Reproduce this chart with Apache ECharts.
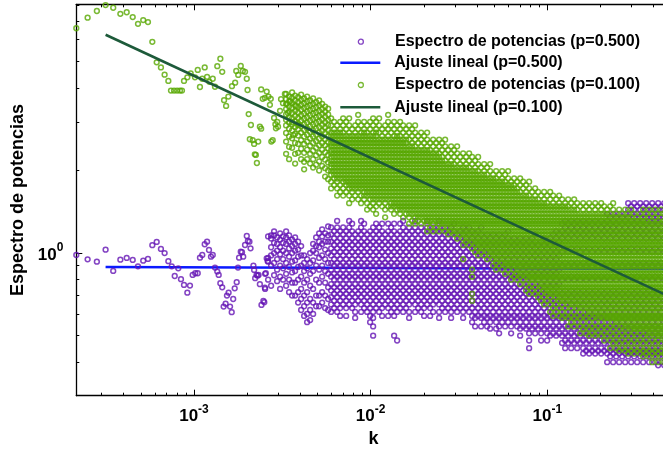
<!DOCTYPE html>
<html><head><meta charset="utf-8">
<script src="https://cdn.jsdelivr.net/npm/echarts@6/dist/echarts.min.js"></script>
<style>html,body{margin:0;padding:0;background:#fff}#c{width:663px;height:449px}</style>
</head><body><div id="c"></div>
<script>
const kMin = 2.157e-4, kMax = 0.5;
const pMin = 0.302, pMax = 8.07;
const seriesNames = ['Espectro de potencias (p=0.500)','Ajuste lineal (p=0.500)','Espectro de potencias (p=0.100)','Ajuste lineal (p=0.100)'];
const minorMultipliers = [2,3,4,5,6,7,8,9];

// p = 0.500, isolated low-k points
const purpleK = [2.157e-4,2.50e-4,2.82e-4,3.16e-4,3.49e-4,3.83e-4,4.16e-4,4.50e-4,4.82e-4,5.16e-4,5.49e-4,5.81e-4,6.15e-4,6.50e-4,6.82e-4,7.16e-4,7.48e-4,7.78e-4,8.15e-4,8.44e-4,8.78e-4,9.17e-4,9.49e-4,9.83e-4,1.017e-3,1.05e-3,1.081e-3,1.114e-3,1.15e-3,1.186e-3,1.216e-3,1.248e-3,1.277e-3,1.315e-3,1.355e-3,1.38e-3,1.41e-3,1.445e-3,1.472e-3,1.51e-3,1.537e-3,1.57e-3,1.60e-3,1.635e-3,1.667e-3,1.70e-3,1.745e-3,1.775e-3,1.80e-3,1.84e-3,1.87e-3,1.90e-3,1.945e-3,1.99e-3,2.02e-3,2.06e-3,2.09e-3,2.17e-3,2.19e-3,2.22e-3,2.26e-3,2.29e-3,2.32e-3,2.36e-3,2.41e-3,2.47e-3,2.50e-3,2.52e-3,2.55e-3,2.58e-3,2.61e-3];
const purpleP = [0.984,0.949,0.930,1.029,0.861,0.946,0.960,0.944,0.895,0.938,0.952,1.068,1.098,1.035,1.0,0.934,0.895,0.825,0.880,0.803,0.765,0.717,0.761,0.832,0.844,0.844,0.962,0.984,1.077,1.100,1.026,0.970,0.984,0.885,0.856,0.832,0.776,0.750,0.638,0.654,0.700,0.717,0.638,0.609,0.680,0.744,0.783,0.885,0.962,1.012,1.007,0.970,1.070,1.154,1.107,1.100,1.041,0.900,0.868,0.810,0.832,0.827,0.832,0.770,0.647,0.669,0.662,0.748,0.844,0.957,0.936];

// p = 0.100, isolated low-k points
const greenK = [2.157e-4,2.50e-4,2.82e-4,3.16e-4,3.49e-4,3.83e-4,4.16e-4,4.50e-4,4.82e-4,5.16e-4,5.49e-4,5.81e-4,6.15e-4,6.50e-4,6.82e-4,7.16e-4,7.41e-4,7.71e-4,8.02e-4,8.33e-4,8.55e-4,8.78e-4,9.17e-4,9.58e-4,1.013e-3,1.05e-3,1.081e-3,1.114e-3,1.15e-3,1.186e-3,1.222e-3,1.277e-3,1.315e-3,1.355e-3,1.41e-3,1.445e-3,1.48e-3,1.52e-3,1.565e-3,1.64e-3,1.71e-3,1.735e-3,1.78e-3,1.84e-3,1.89e-3,1.945e-3,1.99e-3,2.01e-3,2.04e-3,2.10e-3,2.07e-3,2.15e-3,2.19e-3,2.21e-3,2.24e-3,2.27e-3,2.31e-3,2.36e-3,2.40e-3,2.40e-3,2.45e-3,2.52e-3,2.58e-3,2.64e-3,2.69e-3,2.72e-3,2.74e-3,2.79e-3,2.84e-3,2.89e-3,2.91e-3,2.96e-3,2.99e-3,3.07e-3,3.11e-3,3.19e-3,3.27e-3,3.36e-3,3.40e-3,3.50e-3,3.60e-3,3.65e-3,3.78e-3,3.88e-3];
const greenP = [6.6,7.21,7.63,8.02,7.84,7.45,7.55,7.25,6.85,7.07,6.95,5.89,4.96,4.75,4.47,4.24,3.91,3.91,3.91,3.91,3.91,4.24,4.37,4.52,4.37,4.65,4.03,4.32,4.75,4.39,4.21,4.32,4.04,4.80,5.11,4.58,3.61,3.44,3.72,4.06,4.18,4.61,4.46,4.81,4.61,4.58,4.32,3.93,3.21,2.93,2.60,2.58,2.50,2.29,2.28,2.13,2.55,2.89,2.84,3.95,3.65,3.68,3.88,3.72,3.47,3.65,2.55,2.58,3.11,2.95,2.85,3.01,2.89,3.30,3.64,3.52,3.80,3.50,3.24,3.58,3.00,2.69,3.43,2.93];

// dense region: k of each column, and the values estimated in each column
const kDense = [2.430e-3,2.527e-3,2.628e-3,2.732e-3,2.841e-3,2.955e-3,3.073e-3,3.195e-3,3.323e-3,3.455e-3,
3.593e-3,3.736e-3,3.886e-3,4.041e-3,4.202e-3,4.369e-3,4.544e-3,4.725e-3,4.914e-3,5.110e-3,
5.314e-3,5.525e-3,5.746e-3,5.975e-3,6.214e-3,6.462e-3,6.720e-3,6.988e-3,7.267e-3,7.557e-3,
7.858e-3,8.172e-3,8.498e-3,8.831e-3,9.184e-3,9.550e-3,9.931e-3,0.01033,0.01074,0.01117,
0.01161,0.01208,0.01256,0.01306,0.01358,0.01412,0.01468,0.01527,0.01588,0.01651,
0.01717,0.01785,0.01857,0.01931,0.02008,0.02088,0.02171,0.02258,0.02348,0.02441,
0.02539,0.02640,0.02745,0.02854,0.02968,0.03087,0.03210,0.03338,0.03471,0.03609,
0.03753,0.03903,0.04058,0.04220,0.04389,0.04563,0.04746,0.04935,0.05132,0.05336,
0.05549,0.05770,0.06000,0.06240,0.06489,0.06748,0.07017,0.07296,0.07587,0.07890,
0.08205,0.08532,0.08873,0.09227,0.09594,0.09977,0.1038,0.1079,0.1122,0.1167,
0.1213,0.1262,0.1312,0.1365,0.1419,0.1476,0.1534,0.1596,0.1659,0.1725,
0.1794,0.1866,0.1940,0.2018,0.2098,0.2182,0.2269,0.2359,0.2453,0.2551,
0.2653,0.2759,0.2869,0.2983,0.3102,0.3226,0.3355,0.3488,0.3628,0.3772,
0.3923,0.4079,0.4242,0.4411,0.4587,0.4769];

const purpleDense = [
[],[.74,.84],[1.15,.96,.93,.8],[1.16,1.13,1.05,.98,.9,.76],[1.2,1.16,1.09,1.0,.92,.83],[1.14,1.08,1.02,.95,.87,.79],[1.18,1.12,1.05,.99,.9,.82,.74],[1.15,1.09,1.02,.95,.88,.8],[1.2,1.14,1.08,1.0,.92,.84,.76],[1.16,1.1,1.04,.97,.89,.8,.72],
// i=10
[1.12,1.06,1.0,.93,.85,.78,.7],[1.14,1.08,1.02,.94,.86,.78,.7],[1.1,1.03,.97,.89,.8,.72,.66],[1.06,.98,.9,.82,.74,.68,.62],[.98,.92,.86,.78,.7,.64,.59],[.95,.88,.8,.72,.66,.6,.56],[1.0,.92,.84,.76,.68,.62,.57],[1.08,1.02,.94,.86,.74,.66,.6],[1.14,1.06,1.0,.9,.8,.7,.64],[1.18,1.1,1.05,.96,.87,.78,.7,.64],
// i=20
[1.22,1.15,1.08,.98,.9,.82,.72,.66],[1.18,1.1,1.03,.95,.86,.78,.7,.63],[1.25,1.16,1.1,1.0,.92,.84,.75,.68,.62],
[1.24,1.17,1.1,1.04,.98,.92,.87,.82,.77,.73,.69,.65,.61],
[1.2,1.13,1.07,1.01,.95,.9,.84,.8,.75,.71,.67,.63],
[1.31,1.24,1.17,1.1,1.04,.98,.92,.87,.82,.77,.73,.69,.65,.61],
[1.2,1.13,1.07,1.01,.95,.9,.84,.8,.75,.71,.67,.63,.59],
[1.24,1.17,1.1,1.04,.98,.92,.87,.82,.77,.73,.69,.65],
[1.2,1.13,1.07,1.01,.95,.9,.84,.8,.75,.71,.67,.63,.59],
[1.31,1.24,1.17,1.1,1.04,.98,.92,.87,.82,.77,.73,.69,.65],
// i=30
[1.28,1.2,1.13,1.07,1.01,.95,.9,.84,.8,.75,.71,.67,.63],
[1.17,1.1,1.04,.98,.92,.87,.82,.77,.73,.69,.65,.61,.58],
[1.2,1.13,1.07,1.01,.95,.9,.84,.8,.75,.71,.67],
[1.31,1.24,1.17,1.1,1.04,.98,.92,.87,.82,.77,.73,.69,.65,.61],
[1.28,1.2,1.13,1.07,1.01,.95,.9,.84,.8,.75,.71,.67,.63],
[1.17,1.1,1.04,.98,.92,.87,.82,.77,.73,.69,.65,.61],
[1.2,1.13,1.07,1.01,.95,.9,.84,.8,.75,.71,.67,.63,.59,.56],
[1.24,1.17,1.1,1.04,.98,.92,.87,.82,.77,.73,.69,.65,.61,.58,.54,.5],
[1.28,1.2,1.13,1.07,1.01,.95,.9,.84,.8,.75,.71,.67,.63],
[1.24,1.17,1.1,1.04,.98,.92,.87,.82,.77,.73,.69,.65,.61],
// i=40
[1.28,1.2,1.13,1.07,1.01,.95,.9,.84,.8,.75,.71,.67,.63,.59],
[1.17,1.1,1.04,.98,.92,.87,.82,.77,.73,.69,.65],
[1.28,1.2,1.13,1.07,1.01,.95,.9,.84,.8,.75,.71,.67,.63,.59],
[1.24,1.17,1.1,1.04,.98,.92,.87,.82,.77,.73,.69,.65,.61],
[1.28,1.2,1.13,1.07,1.01,.95,.9,.84,.8,.75,.71,.67,.63,.59,.5],
[1.17,1.1,1.04,.98,.92,.87,.82,.77,.73,.69,.65,.61,.48],
[1.28,1.2,1.13,1.07,1.01,.95,.9,.84,.8,.75,.71,.67,.63],
[1.31,1.24,1.17,1.1,1.04,.98,.92,.87,.82,.77,.73,.69,.65,.61],
[1.2,1.13,1.07,1.01,.95,.9,.84,.8,.75,.71,.67,.63],
[1.24,1.17,1.1,1.04,.98,.92,.87,.82,.77,.73,.69,.65,.61,.58],
// i=50
[1.2,1.13,1.07,1.01,.95,.9,.84,.8,.75,.71,.67],
[1.31,1.24,1.17,1.1,1.04,.98,.92,.87,.82,.77,.73,.69,.65,.61],
[1.2,1.13,1.07,1.01,.95,.9,.84,.8,.75,.71,.67,.63],
[1.24,1.17,1.1,1.04,.98,.92,.87,.82,.77,.73,.69,.65,.61],
[1.2,1.13,1.07,1.01,.95,.9,.84,.8,.75,.71,.67,.63,.59],
[1.31,1.24,1.17,1.1,1.04,.98,.92,.87,.82,.77,.73,.69,.65],
[1.2,1.13,1.07,1.01,.95,.9,.84,.8,.75,.71,.67,.63,.59],
[1.24,1.17,1.1,1.04,.98,.92,.87,.82,.77,.73,.69,.65,.61],
[1.2,1.13,1.07,1.01,.95,.9,.84,.8,.75,.71,.67],
[1.31,1.24,1.17,1.1,1.04,.98,.92,.87,.82,.77,.73,.69,.65,.61,.58],
// i=60
[1.2,1.13,1.07,1.01,.95,.9,.84,.8,.75,.71,.67,.63],
[1.24,1.17,1.1,1.04,.98,.92,.87,.82,.77,.73,.69,.65,.61],
[1.2,1.13,1.07,1.01,.95,.9,.84,.8,.75,.71,.67,.63],
[1.24,1.17,1.1,1.04,.98,.92,.87,.82,.77,.73,.69,.65,.61,.58],
[1.28,1.2,1.13,1.07,1.01,.95,.9,.84,.8,.75,.71,.67,.63],
[1.17,1.1,1.04,.98,.92,.87,.82,.77,.73,.69,.65,.61],
[1.2,1.13,1.07,1.01,.95,.9,.84,.8,.75,.71,.67,.63],
[1.24,1.17,1.1,1.04,.98,.92,.87,.82,.77,.73,.69,.65,.61,.58],
[1.2,1.13,1.07,1.01,.95,.9,.84,.8,.75,.71,.67,.63],
[1.24,1.17,1.1,1.04,.98,.92,.87,.82,.77,.73,.69,.65,.61],
// i=70
[1.2,1.13,1.07,1.01,.95,.9,.84,.8,.75,.71,.67,.63,.59,.56],
[1.17,1.1,1.04,.98,.92,.87,.82,.77,.73,.69,.65,.61,.58,.54],
[1.2,1.13,1.07,1.01,.95,.9,.84,.8,.75,.71,.67,.63,.59],
[1.24,1.17,1.1,1.04,.98,.92,.87,.82,.77,.73,.69,.65,.61,.58,.54],
[1.13,1.07,1.01,.95,.9,.84,.8,.75,.71,.67,.63,.59,.56],
[1.17,1.1,1.04,.98,.92,.87,.82,.77,.73,.69,.65,.61,.58,.54],
[1.13,1.07,1.01,.95,.9,.84,.8,.75,.71,.67,.63,.59,.56,.53],
[1.17,1.1,1.04,.98,.92,.87,.82,.77,.73,.69,.65,.61,.58],
[1.13,1.07,1.01,.95,.9,.84,.8,.75,.71,.67,.63,.59,.56,.53],
[1.17,1.1,1.04,.98,.92,.87,.82,.77,.73,.69,.65,.61,.58,.54,.51],
// i=80
[1.13,1.07,1.01,.95,.9,.84,.8,.75,.71,.67,.63,.59,.56],
[1.17,1.1,1.04,.98,.92,.87,.82,.77,.73,.69,.65,.61,.58,.54],
[1.2,1.13,1.07,1.01,.95,.9,.84,.8,.75,.71,.67,.63,.59,.56],
[1.1,1.04,.98,.92,.87,.82,.77,.73,.69,.65,.61,.58,.54,.51],
[1.13,1.07,1.01,.95,.9,.84,.8,.75,.71,.67,.63,.59,.56],
[1.1,1.04,.98,.92,.87,.82,.77,.73,.69,.65,.61,.58,.54],
[1.13,1.07,1.01,.95,.9,.84,.8,.75,.71,.67,.63,.59,.56,.53,.5],
[1.1,1.04,.98,.92,.87,.82,.77,.73,.69,.65,.61,.58,.54],
[1.13,1.07,1.01,.95,.9,.84,.8,.75,.71,.67,.63,.59,.56,.53],
[1.1,1.04,.98,.92,.87,.82,.77,.73,.69,.65,.61,.58,.54,.51,.48,.45],
// i=90
[1.13,1.07,1.01,.95,.9,.84,.8,.75,.71,.67,.63,.59,.56,.53],
[1.17,1.1,1.04,.98,.92,.87,.82,.77,.73,.69,.65,.61,.58,.54,.51],
[1.07,1.01,.95,.9,.84,.8,.75,.71,.67,.63,.59,.56,.53],
[1.1,1.04,.98,.92,.87,.82,.77,.73,.69,.65,.61,.58,.54,.51,.48],
[1.13,1.07,1.01,.95,.9,.84,.8,.75,.71,.67,.63,.59,.56,.53],
[1.1,1.04,.98,.92,.87,.82,.77,.73,.69,.65,.61,.58,.54,.51,.48],
[1.13,1.07,1.01,.95,.9,.84,.8,.75,.71,.67,.63,.59,.56,.53,.5],
[1.17,1.1,1.04,.98,.92,.87,.82,.77,.73,.69,.65,.61,.58,.54,.51],
[1.2,1.13,1.07,1.01,.95,.9,.84,.8,.75,.71,.67,.63,.59,.56,.53,.5],
[1.17,1.1,1.04,.98,.92,.87,.82,.77,.73,.69,.65,.61,.58,.54,.51],
// i=100
[1.28,1.2,1.13,1.01,.9,.8,.71,.67,.63,.59,.56,.53,.5,.47],
[1.31,1.24,1.17,1.04,.92,.82,.73,.69,.65,.61,.58,.54,.51,.48,.45],
[1.28,1.2,1.13,1.01,.9,.8,.71,.67,.63,.59,.56,.53,.5,.47],
[1.31,1.24,1.17,1.04,.92,.82,.73,.69,.65,.61,.58,.54,.51,.48,.45],
[1.28,1.2,1.13,1.01,.9,.8,.71,.67,.63,.59,.56,.53,.5,.47],
[1.31,1.24,1.17,1.04,.92,.82,.73,.69,.65,.61,.58,.54,.51,.48,.45],
[1.28,1.2,1.13,1.01,.9,.8,.71,.67,.63,.59,.56,.53,.5,.47],
[1.31,1.24,1.17,1.04,.92,.82,.73,.69,.65,.61,.58,.54,.51,.48,.45,.43],
[1.28,1.2,1.13,1.01,.9,.8,.71,.67,.63,.59,.56,.53,.5,.47,.44],
[1.31,1.24,1.17,1.04,.92,.82,.73,.69,.65,.61,.58,.54,.51,.48,.45,.43],
// i=110
[1.28,1.2,1.13,1.01,.9,.8,.71,.67,.63,.59,.56,.53,.5,.47,.44],
[1.31,1.24,1.17,1.04,.92,.82,.73,.69,.65,.61,.58,.54,.51,.48,.45,.43],
[1.28,1.2,1.13,1.01,.9,.8,.71,.67,.63,.59,.56,.53,.5,.47,.44],
[1.31,1.24,1.17,1.04,.92,.82,.73,.69,.65,.61,.58,.54,.51,.48,.45,.43],
[1.28,1.2,1.13,1.01,.9,.8,.71,.67,.63,.59,.56,.53,.5,.47,.44],
[1.39,1.31,1.24,1.17,1.04,.92,.82,.73,.69,.65,.61,.58,.54,.51,.48,.45,.43,.4],
[1.35,1.28,1.2,1.13,1.01,.9,.8,.71,.67,.63,.59,.56,.53,.5,.47,.44,.42],
[1.39,1.31,1.24,1.17,1.04,.92,.82,.73,.69,.65,.61,.58,.54,.51,.48,.45,.43,.4],
[1.35,1.28,1.2,1.13,1.01,.9,.8,.71,.67,.63,.59,.56,.53,.5,.47,.44,.42],
[1.39,1.31,1.24,1.17,1.04,.92,.82,.73,.69,.65,.61,.58,.54,.51,.48,.45,.43,.4],
// i=120
[1.35,1.28,1.2,1.13,1.01,.9,.8,.71,.67,.63,.59,.56,.53,.5,.47,.44,.42],
[1.39,1.31,1.24,1.17,1.04,.92,.82,.73,.69,.65,.61,.58,.54,.51,.48,.45,.43,.4],
[1.52,1.44,1.35,1.28,1.2,1.13,1.01,.9,.8,.71,.67,.63,.59,.56,.53,.5,.47,.44,.42],
[1.48,1.39,1.31,1.24,1.17,1.04,.92,.82,.73,.69,.65,.61,.58,.54,.51,.48,.45,.43,.4],
[1.52,1.44,1.35,1.28,1.2,1.13,1.01,.9,.8,.71,.67,.63,.59,.56,.53,.5,.47,.44,.42],
[1.48,1.39,1.31,1.24,1.17,1.04,.92,.82,.73,.69,.65,.61,.58,.54,.51,.48,.45,.43,.4],
[1.52,1.44,1.35,1.28,1.2,1.13,1.01,.9,.8,.71,.67,.63,.59,.56,.53,.5,.47,.44,.42],
[1.48,1.39,1.31,1.24,1.17,1.04,.92,.82,.73,.69,.65,.61,.58,.54,.51,.48,.45,.43,.4],
[1.52,1.44,1.35,1.28,1.2,1.13,1.01,.9,.8,.71,.67,.63,.59,.56,.53,.5,.47,.44,.42],
[1.48,1.39,1.31,1.24,1.17,1.04,.92,.82,.73,.69,.65,.61,.58,.54,.51,.48,.45,.43,.4],
// i=130
[1.52,1.44,1.35,1.28,1.2,1.13,1.01,.9,.8,.71,.67,.63,.59,.56,.53,.5,.47,.44,.42],
[1.48,1.39,1.31,1.24,1.17,1.04,.92,.82,.73,.69,.65,.61,.58,.54,.51,.48,.45,.43,.4],
[1.52,1.44,1.35,1.28,1.2,1.13,1.01,.9,.8,.71,.67,.63,.59,.56,.53,.5,.47,.44,.42,.39],
[1.48,1.39,1.31,1.24,1.17,1.04,.92,.82,.73,.69,.65,.61,.58,.54,.51,.48,.45,.43,.4],
[1.52,1.44,1.35,1.28,1.2,1.13,1.01,.9,.8,.71,.67,.63,.59,.56,.53,.5,.47,.44,.42,.39],
[1.48,1.39,1.31,1.24,1.17,1.04,.92,.82,.73,.69,.65,.61,.58,.54,.51,.48,.45,.43,.4]];

const greenDense = [[],[],[],[],[],[],[],[],
[3.8,3.64,3.5,3.35,3.2,3.06,2.92,2.74,2.55,2.3],[3.72,3.57,3.42,3.28,3.13,2.99,2.84,2.66,2.44,2.2],
// i=10
[3.85,3.68,3.53,3.38,3.24,3.1,2.95,2.8,2.62,2.42],[3.75,3.6,3.45,3.3,3.16,3.02,2.88,2.72,2.52,2.3,2.12],[3.7,3.55,3.4,3.25,3.11,2.97,2.83,2.68,2.5,2.32],[3.78,3.62,3.47,3.33,3.18,3.04,2.9,2.75,2.58,2.4,2.2],
[3.66,3.52,3.38,3.23,3.09,2.95,2.81,2.66,2.5,2.32,2.15,2.02],[3.72,3.57,3.42,3.28,3.13,2.99,2.85,2.7,2.55,2.38,2.2],[3.6,3.46,3.32,3.18,3.04,2.9,2.76,2.62,2.46,2.3,2.12],[3.66,3.5,3.36,3.22,3.08,2.94,2.8,2.66,2.52,2.36,2.2,2.05],
[3.55,3.4,3.26,3.12,2.98,2.84,2.7,2.56,2.42,2.27,2.1],[3.6,3.45,3.3,3.16,3.02,2.88,2.75,2.61,2.47,2.32,2.16,2.0],
// i=20
[3.5,3.35,3.21,3.07,2.93,2.79,2.66,2.52,2.38,2.24,2.08],[3.42,3.28,3.14,3.0,2.87,2.74,2.6,2.47,2.33,2.19,2.04,1.9],[3.36,3.2,3.06,2.93,2.8,2.67,2.54,2.41,2.28,2.14,2.0,1.86],
[3.1,2.92,2.75,2.67,2.59,2.52,2.45,2.37,2.31,2.24,2.17,2.11,2.05,1.99,1.93,1.82,1.72],
[3.01,2.83,2.75,2.67,2.59,2.52,2.45,2.37,2.31,2.24,2.17,2.11,2.05,1.99,1.93,1.87,1.77],
[2.92,2.75,2.67,2.59,2.52,2.45,2.37,2.31,2.24,2.17,2.11,2.05,1.99,1.93,1.87,1.82,1.72,1.62],
[3.01,2.83,2.75,2.67,2.59,2.52,2.45,2.37,2.31,2.24,2.17,2.11,2.05,1.99,1.93,1.87,1.77,1.67],
[3.1,2.92,2.75,2.67,2.59,2.52,2.45,2.37,2.31,2.24,2.17,2.11,2.05,1.99,1.93,1.87,1.82,1.72,1.62],
[3.01,2.83,2.67,2.59,2.52,2.45,2.37,2.31,2.24,2.17,2.11,2.05,1.99,1.93,1.87,1.82,1.77,1.67],
[3.1,2.92,2.75,2.67,2.59,2.52,2.45,2.37,2.31,2.24,2.17,2.11,2.05,1.99,1.93,1.87,1.82,1.77,1.72,1.62,1.52],
// i=30
[2.83,2.67,2.59,2.52,2.45,2.37,2.31,2.24,2.17,2.11,2.05,1.99,1.93,1.87,1.82,1.77,1.72,1.67,1.57],
[2.92,2.75,2.67,2.59,2.52,2.45,2.37,2.31,2.24,2.17,2.11,2.05,1.99,1.93,1.87,1.82,1.77,1.72,1.62],
[3.19,3.01,2.83,2.67,2.59,2.52,2.45,2.37,2.31,2.24,2.17,2.11,2.05,1.99,1.93,1.87,1.82,1.77,1.72,1.67,1.57],
[2.92,2.75,2.67,2.59,2.52,2.45,2.37,2.31,2.24,2.17,2.11,2.05,1.99,1.93,1.87,1.82,1.77,1.72,1.62,1.52],
[3.01,2.83,2.75,2.67,2.59,2.52,2.45,2.37,2.31,2.24,2.17,2.11,2.05,1.99,1.93,1.87,1.82,1.77,1.72,1.67,1.62,1.57],
[2.92,2.75,2.67,2.59,2.52,2.45,2.37,2.31,2.24,2.17,2.11,2.05,1.99,1.93,1.87,1.82,1.77,1.72,1.67,1.62,1.52,1.44],
[3.01,2.83,2.67,2.59,2.52,2.45,2.37,2.31,2.24,2.17,2.11,2.05,1.99,1.93,1.87,1.82,1.77,1.72,1.67,1.62,1.57,1.48],
[3.1,2.92,2.75,2.67,2.59,2.52,2.45,2.37,2.31,2.24,2.17,2.11,2.05,1.99,1.93,1.87,1.82,1.77,1.72,1.67,1.62,1.57,1.52,1.44],
[3.01,2.83,2.75,2.67,2.59,2.52,2.45,2.37,2.31,2.24,2.17,2.11,2.05,1.99,1.93,1.87,1.82,1.77,1.72,1.67,1.62,1.57,1.48,1.39],
[3.1,2.92,2.75,2.59,2.52,2.45,2.37,2.31,2.24,2.17,2.11,2.05,1.99,1.93,1.87,1.82,1.77,1.72,1.67,1.62,1.57,1.52],
// i=40
[2.83,2.67,2.59,2.52,2.45,2.37,2.31,2.24,2.17,2.11,2.05,1.99,1.93,1.87,1.82,1.77,1.72,1.67,1.62,1.57,1.48],
[2.92,2.75,2.59,2.52,2.45,2.37,2.31,2.24,2.17,2.11,2.05,1.99,1.93,1.87,1.82,1.77,1.72,1.67,1.62,1.57,1.52,1.44,1.35],
[3.19,3.01,2.83,2.67,2.59,2.52,2.45,2.37,2.31,2.24,2.17,2.11,2.05,1.99,1.93,1.87,1.82,1.77,1.72,1.67,1.62,1.57,1.48],
[2.92,2.75,2.59,2.52,2.45,2.37,2.31,2.24,2.17,2.11,2.05,1.99,1.93,1.87,1.82,1.77,1.72,1.67,1.62,1.57,1.52,1.48,1.44],
[3.01,2.83,2.67,2.59,2.52,2.45,2.37,2.31,2.24,2.17,2.11,2.05,1.99,1.93,1.87,1.82,1.77,1.72,1.67,1.62,1.57,1.52,1.48,1.39],
[2.92,2.75,2.67,2.59,2.52,2.45,2.37,2.31,2.24,2.17,2.11,2.05,1.99,1.93,1.87,1.82,1.77,1.72,1.67,1.62,1.57,1.52,1.48,1.44],
[3.01,2.83,2.67,2.59,2.52,2.45,2.37,2.31,2.24,2.17,2.11,2.05,1.99,1.93,1.87,1.82,1.77,1.72,1.67,1.62,1.57,1.52,1.48,1.44,1.39],
[2.92,2.75,2.59,2.52,2.45,2.37,2.31,2.24,2.17,2.11,2.05,1.99,1.93,1.87,1.82,1.77,1.72,1.67,1.62,1.57,1.52,1.48,1.44,1.35],
[2.83,2.67,2.59,2.52,2.45,2.37,2.31,2.24,2.17,2.11,2.05,1.99,1.93,1.87,1.82,1.77,1.72,1.67,1.62,1.57,1.52,1.48,1.44,1.39],
[2.92,2.75,2.59,2.45,2.37,2.31,2.24,2.17,2.11,2.05,1.99,1.93,1.87,1.82,1.77,1.72,1.67,1.62,1.57,1.52,1.48,1.44,1.39,1.35,1.28],
// i=50
[2.83,2.67,2.52,2.45,2.37,2.31,2.24,2.17,2.11,2.05,1.99,1.93,1.87,1.82,1.77,1.72,1.67,1.62,1.57,1.52,1.48,1.44,1.39,1.31],
[2.92,2.75,2.59,2.45,2.37,2.31,2.24,2.17,2.11,2.05,1.99,1.93,1.87,1.82,1.77,1.72,1.67,1.62,1.57,1.52,1.48,1.44,1.39,1.35,1.28],
[2.67,2.52,2.37,2.31,2.24,2.17,2.11,2.05,1.99,1.93,1.87,1.82,1.77,1.72,1.67,1.62,1.57,1.52,1.48,1.44,1.39,1.35,1.31],
[2.75,2.59,2.45,2.37,2.31,2.24,2.17,2.11,2.05,1.99,1.93,1.87,1.82,1.77,1.72,1.67,1.62,1.57,1.52,1.48,1.44,1.39,1.35,1.28],
[2.67,2.52,2.37,2.31,2.24,2.17,2.11,2.05,1.99,1.93,1.87,1.82,1.77,1.72,1.67,1.62,1.57,1.52,1.48,1.44,1.39,1.35,1.31],
[2.75,2.59,2.45,2.37,2.31,2.24,2.17,2.11,2.05,1.99,1.93,1.87,1.82,1.77,1.72,1.67,1.62,1.57,1.52,1.48,1.44,1.39,1.35,1.31,1.28,1.2],
[2.52,2.37,2.31,2.24,2.17,2.11,2.05,1.99,1.93,1.87,1.82,1.77,1.72,1.67,1.62,1.57,1.52,1.48,1.44,1.39,1.35,1.31,1.24],
[2.59,2.45,2.31,2.24,2.17,2.11,2.05,1.99,1.93,1.87,1.82,1.77,1.72,1.67,1.62,1.57,1.52,1.48,1.44,1.39,1.35,1.31,1.28,1.2],
[2.52,2.37,2.31,2.24,2.17,2.11,2.05,1.99,1.93,1.87,1.82,1.77,1.72,1.67,1.62,1.57,1.52,1.48,1.44,1.39,1.35,1.31,1.24],
[2.59,2.45,2.31,2.24,2.17,2.11,2.05,1.99,1.93,1.87,1.82,1.77,1.72,1.67,1.62,1.57,1.52,1.48,1.44,1.39,1.35,1.31,1.28,1.2],
// i=60
[2.52,2.37,2.24,2.17,2.11,2.05,1.99,1.93,1.87,1.82,1.77,1.72,1.67,1.62,1.57,1.52,1.48,1.44,1.39,1.35,1.31,1.28,1.24],
[2.59,2.45,2.31,2.17,2.11,2.05,1.99,1.93,1.87,1.82,1.77,1.72,1.67,1.62,1.57,1.52,1.48,1.44,1.39,1.35,1.31,1.28,1.2],
[2.37,2.24,2.11,2.05,1.99,1.93,1.87,1.82,1.77,1.72,1.67,1.62,1.57,1.52,1.48,1.44,1.39,1.35,1.31,1.28,1.24,1.17],
[2.45,2.31,2.17,2.11,2.05,1.99,1.93,1.87,1.82,1.77,1.72,1.67,1.62,1.57,1.52,1.48,1.44,1.39,1.35,1.31,1.28,1.24,1.2],
[2.37,2.24,2.11,2.05,1.99,1.93,1.87,1.82,1.77,1.72,1.67,1.62,1.57,1.52,1.48,1.44,1.39,1.35,1.31,1.28,1.24,1.2,1.17],
[2.45,2.31,2.17,2.05,1.99,1.93,1.87,1.82,1.77,1.72,1.67,1.62,1.57,1.52,1.48,1.44,1.39,1.35,1.31,1.28,1.24,1.2,1.13],
[2.24,2.11,2.05,1.99,1.93,1.87,1.82,1.77,1.72,1.67,1.62,1.57,1.52,1.48,1.44,1.39,1.35,1.31,1.28,1.24,1.2,1.17],
[2.31,2.17,2.05,1.99,1.93,1.87,1.82,1.77,1.72,1.67,1.62,1.57,1.52,1.48,1.44,1.39,1.35,1.31,1.28,1.24,1.2,1.17,1.13,1.07,.95],
[2.24,2.11,2.05,1.99,1.93,1.87,1.82,1.77,1.72,1.67,1.62,1.57,1.52,1.48,1.44,1.39,1.35,1.31,1.28,1.24,1.2,1.17,1.13,1.1],
[2.31,2.17,2.05,1.99,1.93,1.87,1.82,1.77,1.72,1.67,1.62,1.57,1.52,1.48,1.44,1.39,1.35,1.31,1.28,1.24,1.2,1.17,1.13,1.07],
// i=70
[2.24,2.11,1.99,1.93,1.87,1.82,1.77,1.72,1.67,1.62,1.57,1.52,1.48,1.44,1.39,1.35,1.31,1.28,1.24,1.2,1.17,1.13,1.1,1.04,.87,.82,.71,.67],
[2.17,2.05,1.99,1.93,1.87,1.82,1.77,1.72,1.67,1.62,1.57,1.52,1.48,1.44,1.39,1.35,1.31,1.28,1.24,1.2,1.17,1.13,1.1,1.07,1.01],
[2.24,2.11,1.99,1.93,1.87,1.82,1.77,1.72,1.67,1.62,1.57,1.52,1.48,1.44,1.39,1.35,1.31,1.28,1.24,1.2,1.17,1.13,1.1,1.07,1.04,.98],
[2.05,1.93,1.87,1.82,1.77,1.72,1.67,1.62,1.57,1.52,1.48,1.44,1.39,1.35,1.31,1.28,1.24,1.2,1.17,1.13,1.1,1.07,1.04,1.01],
[2.11,1.99,1.93,1.87,1.82,1.77,1.72,1.67,1.62,1.57,1.52,1.48,1.44,1.39,1.35,1.31,1.28,1.24,1.2,1.17,1.13,1.1,1.07,1.04,.98],
[2.05,1.93,1.87,1.82,1.77,1.72,1.67,1.62,1.57,1.52,1.48,1.44,1.39,1.35,1.31,1.28,1.24,1.2,1.17,1.13,1.1,1.07,1.04,1.01,.95],
[2.11,1.99,1.87,1.82,1.77,1.72,1.67,1.62,1.57,1.52,1.48,1.44,1.39,1.35,1.31,1.28,1.24,1.2,1.17,1.13,1.1,1.07,1.04,1.01,.98],
[1.93,1.87,1.82,1.77,1.72,1.67,1.62,1.57,1.52,1.48,1.44,1.39,1.35,1.31,1.28,1.24,1.2,1.17,1.13,1.1,1.07,1.04,1.01,.98,.95,.9],
[1.99,1.87,1.82,1.77,1.72,1.67,1.62,1.57,1.52,1.48,1.44,1.39,1.35,1.31,1.28,1.24,1.2,1.17,1.13,1.1,1.07,1.04,1.01,.98,.95,.92,.87],
[1.93,1.82,1.77,1.72,1.67,1.62,1.57,1.52,1.48,1.44,1.39,1.35,1.31,1.28,1.24,1.2,1.17,1.13,1.1,1.07,1.04,1.01,.98,.95,.9],
// i=80
[1.99,1.87,1.82,1.77,1.72,1.67,1.62,1.57,1.52,1.48,1.44,1.39,1.35,1.31,1.28,1.24,1.2,1.17,1.13,1.1,1.07,1.04,1.01,.98,.95,.92,.87],
[1.93,1.82,1.77,1.72,1.67,1.62,1.57,1.52,1.48,1.44,1.39,1.35,1.31,1.28,1.24,1.2,1.17,1.13,1.1,1.07,1.04,1.01,.98,.95,.92,.9,.84],
[1.99,1.87,1.77,1.72,1.67,1.62,1.57,1.52,1.48,1.44,1.39,1.35,1.31,1.28,1.24,1.2,1.17,1.13,1.1,1.07,1.04,1.01,.98,.95,.92,.9,.87],
[1.82,1.77,1.72,1.67,1.62,1.57,1.52,1.48,1.44,1.39,1.35,1.31,1.28,1.24,1.2,1.17,1.13,1.1,1.07,1.04,1.01,.98,.95,.92,.9,.84,.8],
[1.87,1.77,1.72,1.67,1.62,1.57,1.52,1.48,1.44,1.39,1.35,1.31,1.28,1.24,1.2,1.17,1.13,1.1,1.07,1.04,1.01,.98,.95,.92,.9,.87,.82],
[1.82,1.72,1.67,1.62,1.57,1.52,1.48,1.44,1.39,1.35,1.31,1.28,1.24,1.2,1.17,1.13,1.1,1.07,1.04,1.01,.98,.95,.92,.9,.87,.84,.8],
[1.87,1.77,1.67,1.62,1.57,1.52,1.48,1.44,1.39,1.35,1.31,1.28,1.24,1.2,1.17,1.13,1.1,1.07,1.04,1.01,.98,.95,.92,.9,.87,.84,.82,.77],
[1.82,1.72,1.62,1.57,1.52,1.48,1.44,1.39,1.35,1.31,1.28,1.24,1.2,1.17,1.13,1.1,1.07,1.04,1.01,.98,.95,.92,.9,.87,.84,.8],
[1.77,1.67,1.62,1.57,1.52,1.48,1.44,1.39,1.35,1.31,1.28,1.24,1.2,1.17,1.13,1.1,1.07,1.04,1.01,.98,.95,.92,.9,.87,.84,.82,.77,.73],
[1.82,1.72,1.62,1.57,1.52,1.48,1.44,1.39,1.35,1.31,1.28,1.24,1.2,1.17,1.13,1.1,1.07,1.04,1.01,.98,.95,.92,.9,.87,.84,.82,.8,.75,.71],
// i=90
[1.67,1.57,1.52,1.48,1.44,1.39,1.35,1.31,1.28,1.24,1.2,1.17,1.13,1.1,1.07,1.04,1.01,.98,.95,.92,.9,.87,.84,.82,.8,.77,.73],
[1.72,1.62,1.57,1.52,1.48,1.44,1.39,1.35,1.31,1.28,1.24,1.2,1.17,1.13,1.1,1.07,1.04,1.01,.98,.95,.92,.9,.87,.84,.82,.8,.75,.71],
[1.67,1.57,1.52,1.48,1.44,1.39,1.35,1.31,1.28,1.24,1.2,1.17,1.13,1.1,1.07,1.04,1.01,.98,.95,.92,.9,.87,.84,.82,.8,.77,.73,.69],
[1.62,1.52,1.48,1.44,1.39,1.35,1.31,1.28,1.24,1.2,1.17,1.13,1.1,1.07,1.04,1.01,.98,.95,.92,.9,.87,.84,.82,.8,.77,.75,.71,.67],
[1.67,1.57,1.52,1.48,1.44,1.39,1.35,1.31,1.28,1.24,1.2,1.17,1.13,1.1,1.07,1.04,1.01,.98,.95,.92,.9,.87,.84,.82,.8,.77,.75,.73,.69,.65],
[1.62,1.52,1.48,1.44,1.39,1.35,1.31,1.28,1.24,1.2,1.17,1.13,1.1,1.07,1.04,1.01,.98,.95,.92,.9,.87,.84,.82,.8,.77,.75,.73,.71,.67],
[1.67,1.57,1.48,1.44,1.39,1.35,1.31,1.28,1.24,1.2,1.17,1.13,1.1,1.07,1.04,1.01,.98,.95,.92,.9,.87,.84,.82,.8,.77,.75,.73,.71,.69,.65,.61],
[1.62,1.52,1.48,1.44,1.39,1.35,1.31,1.28,1.24,1.2,1.17,1.13,1.1,1.07,1.04,1.01,.98,.95,.92,.9,.87,.84,.82,.8,.77,.75,.73,.71,.67,.63,.59],
[1.57,1.48,1.44,1.39,1.35,1.31,1.28,1.24,1.2,1.17,1.13,1.1,1.07,1.04,1.01,.98,.95,.92,.9,.87,.84,.82,.8,.77,.75,.73,.71,.69,.65,.61],
[1.62,1.52,1.48,1.44,1.39,1.35,1.31,1.28,1.24,1.2,1.17,1.13,1.1,1.07,1.04,1.01,.98,.95,.92,.9,.87,.84,.82,.8,.77,.75,.73,.71,.69,.67,.63,.59],
// i=100
[1.57,1.48,1.44,1.39,1.35,1.31,1.28,1.24,1.2,1.17,1.13,1.1,1.07,1.04,1.01,.98,.95,.92,.9,.87,.84,.82,.8,.77,.75,.73,.69,.65,.61,.58,.71,.67],
[1.52,1.48,1.44,1.39,1.35,1.31,1.28,1.24,1.2,1.17,1.13,1.1,1.07,1.04,1.01,.98,.95,.92,.9,.87,.84,.82,.8,.77,.75,.73,.71,.67,.63,.59,.69],
[1.57,1.48,1.44,1.39,1.35,1.31,1.28,1.24,1.2,1.17,1.13,1.1,1.07,1.04,1.01,.98,.95,.92,.9,.87,.84,.82,.8,.77,.75,.73,.69,.65,.61,.58,.54,.71,.67],
[1.52,1.44,1.39,1.35,1.31,1.28,1.24,1.2,1.17,1.13,1.1,1.07,1.04,1.01,.98,.95,.92,.9,.87,.84,.82,.8,.77,.75,.73,.71,.67,.63,.59,.56,.69,.65],
[1.57,1.48,1.44,1.39,1.35,1.31,1.28,1.24,1.2,1.17,1.13,1.1,1.07,1.04,1.01,.98,.95,.92,.9,.87,.84,.82,.8,.77,.75,.73,.71,.69,.65,.61,.58,.54,.67],
[1.52,1.44,1.39,1.35,1.31,1.28,1.24,1.2,1.17,1.13,1.1,1.07,1.04,1.01,.98,.95,.92,.9,.87,.84,.82,.8,.77,.75,.73,.71,.69,.67,.63,.59,.56,.65],
[1.48,1.39,1.35,1.31,1.28,1.24,1.2,1.17,1.13,1.1,1.07,1.04,1.01,.98,.95,.92,.9,.87,.84,.82,.8,.77,.75,.73,.71,.69,.65,.61,.58,.54,.51,.67,.63],
[1.52,1.44,1.39,1.35,1.31,1.28,1.24,1.2,1.17,1.13,1.1,1.07,1.04,1.01,.98,.95,.92,.9,.87,.84,.82,.8,.77,.75,.73,.71,.69,.67,.63,.59,.56,.53,.65],
[1.48,1.39,1.35,1.31,1.28,1.24,1.2,1.17,1.13,1.1,1.07,1.04,1.01,.98,.95,.92,.9,.87,.84,.82,.8,.77,.75,.73,.71,.69,.67,.65,.61,.58,.54,.51,.63],
[1.52,1.44,1.39,1.35,1.31,1.28,1.24,1.2,1.17,1.13,1.1,1.07,1.04,1.01,.98,.95,.92,.9,.87,.84,.82,.8,.77,.75,.73,.71,.69,.67,.63,.59,.56,.53,.5,.65,.61],
// i=110
[1.48,1.39,1.35,1.31,1.28,1.24,1.2,1.17,1.13,1.1,1.07,1.04,1.01,.98,.95,.92,.9,.87,.84,.82,.8,.77,.75,.73,.71,.69,.67,.65,.61,.58,.54,.51,.63],
[1.52,1.44,1.39,1.35,1.31,1.28,1.24,1.2,1.17,1.13,1.1,1.07,1.04,1.01,.98,.95,.92,.9,.87,.84,.82,.8,.77,.75,.73,.71,.69,.67,.65,.63,.59,.56,.53,.5,.61],
[1.48,1.39,1.35,1.31,1.28,1.24,1.2,1.17,1.13,1.1,1.07,1.04,1.01,.98,.95,.92,.9,.87,.84,.82,.8,.77,.75,.73,.71,.69,.67,.65,.61,.58,.54,.51,.63,.59],
[1.52,1.44,1.39,1.35,1.31,1.28,1.24,1.2,1.17,1.13,1.1,1.07,1.04,1.01,.98,.95,.92,.9,.87,.84,.82,.8,.77,.75,.73,.71,.69,.67,.65,.63,.59,.56,.53,.5,.61],
[1.48,1.39,1.35,1.31,1.28,1.24,1.2,1.17,1.13,1.1,1.07,1.04,1.01,.98,.95,.92,.9,.87,.84,.82,.8,.77,.75,.73,.71,.69,.67,.65,.63,.61,.58,.54,.51,.48,.59],
[1.44,1.39,1.35,1.31,1.28,1.24,1.2,1.17,1.13,1.1,1.07,1.04,1.01,.98,.95,.92,.9,.87,.84,.82,.8,.77,.75,.73,.71,.69,.67,.65,.63,.59,.56,.53,.5,.61,.58],
[1.48,1.39,1.35,1.31,1.28,1.24,1.2,1.17,1.13,1.1,1.07,1.04,1.01,.98,.95,.92,.9,.87,.84,.82,.8,.77,.75,.73,.71,.69,.67,.65,.63,.61,.58,.54,.51,.48,.45,.59],
[1.52,1.44,1.35,1.31,1.28,1.24,1.2,1.17,1.13,1.1,1.07,1.04,1.01,.98,.95,.92,.9,.87,.84,.82,.8,.77,.75,.73,.71,.69,.67,.65,.63,.61,.59,.56,.53,.5,.47,.58],
[1.39,1.35,1.31,1.28,1.24,1.2,1.17,1.13,1.1,1.07,1.04,1.01,.98,.95,.92,.9,.87,.84,.82,.8,.77,.75,.73,.71,.69,.67,.65,.63,.61,.58,.54,.51,.48,.45,.59,.56],
[1.44,1.35,1.31,1.28,1.24,1.2,1.17,1.13,1.1,1.07,1.04,1.01,.98,.95,.92,.9,.87,.84,.82,.8,.77,.75,.73,.71,.69,.67,.65,.63,.61,.59,.56,.53,.5,.47,.44,.58],
// i=120
[1.39,1.35,1.31,1.28,1.24,1.2,1.17,1.13,1.1,1.07,1.04,1.01,.98,.95,.92,.9,.87,.84,.82,.8,.77,.75,.73,.71,.69,.67,.65,.63,.61,.58,.54,.51,.48,.45,.59,.56],
[1.44,1.35,1.31,1.28,1.24,1.2,1.17,1.13,1.1,1.07,1.04,1.01,.98,.95,.92,.9,.87,.84,.82,.8,.77,.75,.73,.71,.69,.67,.65,.63,.61,.59,.56,.53,.5,.47,.44,.58,.54],
[1.39,1.35,1.31,1.28,1.24,1.2,1.17,1.13,1.1,1.07,1.04,1.01,.98,.95,.92,.9,.87,.84,.82,.8,.77,.75,.73,.71,.69,.67,.65,.63,.61,.59,.58,.54,.51,.48,.45,.43,.56],
[1.44,1.35,1.31,1.28,1.24,1.2,1.17,1.13,1.1,1.07,1.04,1.01,.98,.95,.92,.9,.87,.84,.82,.8,.77,.75,.73,.71,.69,.67,.65,.63,.61,.59,.56,.53,.5,.47,.44,.58,.54],
[1.39,1.31,1.28,1.24,1.2,1.17,1.13,1.1,1.07,1.04,1.01,.98,.95,.92,.9,.87,.84,.82,.8,.77,.75,.73,.71,.69,.67,.65,.63,.61,.59,.58,.54,.51,.48,.45,.43,.56,.53],
[1.35,1.31,1.28,1.24,1.2,1.17,1.13,1.1,1.07,1.04,1.01,.98,.95,.92,.9,.87,.84,.82,.8,.77,.75,.73,.71,.69,.67,.65,.63,.61,.59,.58,.56,.53,.5,.47,.44,.54],
[1.39,1.31,1.28,1.24,1.2,1.17,1.13,1.1,1.07,1.04,1.01,.98,.95,.92,.9,.87,.84,.82,.8,.77,.75,.73,.71,.69,.67,.65,.63,.61,.59,.58,.54,.51,.48,.45,.43,.56,.53],
[1.44,1.35,1.31,1.28,1.24,1.2,1.17,1.13,1.1,1.07,1.04,1.01,.98,.95,.92,.9,.87,.84,.82,.8,.77,.75,.73,.71,.69,.67,.65,.63,.61,.59,.58,.56,.53,.5,.47,.44,.42,.54],
[1.39,1.31,1.28,1.24,1.2,1.17,1.13,1.1,1.07,1.04,1.01,.98,.95,.92,.9,.87,.84,.82,.8,.77,.75,.73,.71,.69,.67,.65,.63,.61,.59,.58,.56,.54,.51,.48,.45,.43,.53],
[1.44,1.35,1.28,1.24,1.2,1.17,1.13,1.1,1.07,1.04,1.01,.98,.95,.92,.9,.87,.84,.82,.8,.77,.75,.73,.71,.69,.67,.65,.63,.61,.59,.58,.56,.53,.5,.47,.44,.42,.54,.51],
// i=130
[1.39,1.31,1.28,1.24,1.2,1.17,1.13,1.1,1.07,1.04,1.01,.98,.95,.92,.9,.87,.84,.82,.8,.77,.75,.73,.71,.69,.67,.65,.63,.61,.59,.58,.56,.54,.51,.48,.45,.43,.4,.53],
[1.44,1.35,1.28,1.24,1.2,1.17,1.13,1.1,1.07,1.04,1.01,.98,.95,.92,.9,.87,.84,.82,.8,.77,.75,.73,.71,.69,.67,.65,.63,.61,.59,.58,.56,.53,.5,.47,.44,.42,.54,.51],
[1.39,1.31,1.28,1.24,1.2,1.17,1.13,1.1,1.07,1.04,1.01,.98,.95,.92,.9,.87,.84,.82,.8,.77,.75,.73,.71,.69,.67,.65,.63,.61,.59,.58,.56,.54,.51,.48,.45,.43,.4,.53,.5],
[1.44,1.35,1.28,1.24,1.2,1.17,1.13,1.1,1.07,1.04,1.01,.98,.95,.92,.9,.87,.84,.82,.8,.77,.75,.73,.71,.69,.67,.65,.63,.61,.59,.58,.56,.54,.53,.5,.47,.44,.42,.51],
[1.39,1.31,1.28,1.24,1.2,1.17,1.13,1.1,1.07,1.04,1.01,.98,.95,.92,.9,.87,.84,.82,.8,.77,.75,.73,.71,.69,.67,.65,.63,.61,.59,.58,.56,.54,.51,.48,.45,.43,.4,.53,.5],
[1.35,1.28,1.24,1.2,1.17,1.13,1.1,1.07,1.04,1.01,.98,.95,.92,.9,.87,.84,.82,.8,.77,.75,.73,.71,.69,.67,.65,.63,.61,.59,.58,.56,.54,.53,.5,.47,.44,.42,.39,.51]];

// linear fits (two end points each)
const fitK = [3.16e-4, 0.5];
const fitPurple = [0.89, 0.875];
const fitGreen = [6.25, 0.69];

const PURPLE = '#6414b4', GREEN = '#58a800', BLUE = '#0a1aff', DKGREEN = '#1d5a3a';
const F = '"Liberation Sans", Arial, Helvetica, sans-serif';

function buildPts(ks, ps, cols) {
  const pts = [];
  for (let i = 0; i < Math.min(ks.length, ps.length); i++) pts.push([ks[i], ps[i]]);
  kDense.forEach((k, i) => (cols[i] || []).forEach(p => pts.push([k, p])));
  return pts;
}
const purplePts = buildPts(purpleK, purpleP, purpleDense);
const greenPts = buildPts(greenK, greenP, greenDense);

function supLabel(v) {
  const l = Math.log10(v), e = Math.round(l);
  if (Math.abs(l - e) > 1e-6) return '';
  return '{b|10}{s|' + e + '}';
}
const rich = {
  b: {fontFamily: F, fontWeight: 'bold', fontSize: 17, color: '#000', lineHeight: 22, verticalAlign: 'bottom'},
  s: {fontFamily: F, fontWeight: 'bold', fontSize: 12, color: '#000', lineHeight: 22, verticalAlign: 'top'}
};
const axisBase = {type: 'log', logBase: 10, splitLine: {show: false}, minorTick: {show: false}, minorSplitLine: {show: false}};

const xAxes = [
  Object.assign({}, axisBase, {min: kMin, max: kMax, position: 'bottom',
    axisLine: {show: true, onZero: false, lineStyle: {color: '#000', width: 1.3}},
    axisTick: {show: true, inside: true, length: 6, lineStyle: {color: '#000', width: 1}},
    axisLabel: {show: true, formatter: supLabel, margin: 7.5, rich: rich, showMinLabel: false, showMaxLabel: false},
    name: 'k', nameLocation: 'middle', nameGap: 31,
    nameTextStyle: {fontFamily: F, fontWeight: 'bold', fontSize: 18, color: '#000'}}),
  Object.assign({}, axisBase, {min: kMin, max: kMax, position: 'top',
    axisLine: {show: true, onZero: false, lineStyle: {color: '#000', width: 1.3}},
    axisTick: {show: true, inside: true, length: 6, lineStyle: {color: '#000', width: 1}},
    axisLabel: {show: false}})
];
['bottom', 'top'].forEach(pos => minorMultipliers.forEach(m => xAxes.push(Object.assign({}, axisBase, {
  min: kMin / m, max: kMax / m, position: pos,
  axisLine: {show: false, onZero: false},
  axisTick: {show: true, inside: true, length: 3, lineStyle: {color: '#000', width: 1}},
  axisLabel: {show: false}}))));

const yAxes = [
  Object.assign({}, axisBase, {min: pMin, max: pMax, position: 'left',
    axisLine: {show: true, onZero: false, lineStyle: {color: '#000', width: 1.3}},
    axisTick: {show: true, inside: true, length: 6, lineStyle: {color: '#000', width: 1}},
    axisLabel: {show: true, formatter: supLabel, margin: 13, rich: rich, showMinLabel: false, showMaxLabel: false},
    name: 'Espectro de potencias', nameLocation: 'middle', nameGap: 44, nameRotate: 90,
    nameTextStyle: {fontFamily: F, fontWeight: 'bold', fontSize: 18, color: '#000'}})
];
minorMultipliers.forEach(m => yAxes.push(Object.assign({}, axisBase, {
  min: pMin / m, max: pMax / m, position: 'left',
  axisLine: {show: false, onZero: false},
  axisTick: {show: true, inside: true, length: 3, lineStyle: {color: '#000', width: 1}},
  axisLabel: {show: false}})));

const legendText = {fontFamily: F, fontWeight: 'bold', fontSize: 16, color: '#000'};
const legendRowTop = [33.7, 54.7, 77, 99.3];
const legends = [
  {data: [{name: seriesNames[0], icon: 'circle', itemStyle: {color: 'rgba(0,0,0,0)', borderColor: PURPLE, borderWidth: 1.3}}],
   left: 357.7, top: legendRowTop[0], itemWidth: 5, itemHeight: 5, formatter: '      {name}'},
  {data: [{name: seriesNames[1], icon: 'rect', itemStyle: {color: BLUE, borderWidth: 0}}],
   left: 340.3, top: legendRowTop[1], itemWidth: 40, itemHeight: 2.6, formatter: '  {name}'},
  {data: [{name: seriesNames[2], icon: 'circle', itemStyle: {color: 'rgba(0,0,0,0)', borderColor: GREEN, borderWidth: 1.3}}],
   left: 357.7, top: legendRowTop[2], itemWidth: 5, itemHeight: 5, formatter: '      {name}'},
  {data: [{name: seriesNames[3], icon: 'rect', itemStyle: {color: DKGREEN, borderWidth: 0}}],
   left: 340.3, top: legendRowTop[3], itemWidth: 40, itemHeight: 2.6, formatter: '  {name}'}
].map(l => Object.assign({orient: 'vertical', padding: 0, selectedMode: false, textStyle: legendText}, l));

const scatterBase = {type: 'scatter', symbol: 'circle', symbolSize: 4.8, clip: false, silent: true, animation: false, progressive: 0, large: false, emphasis: {disabled: true}, z: 2};
const chart = echarts.init(document.getElementById('c'), null, {renderer: 'canvas'});
chart.setOption({
  animation: false,
  backgroundColor: '#fff',
  grid: {left: 76.3, right: -7.8, top: 4.3, bottom: 53.3, outerBoundsMode: 'none'},
  xAxis: xAxes,
  yAxis: yAxes,
  legend: legends,
  series: [
    Object.assign({}, scatterBase, {name: seriesNames[0], data: purplePts,
      itemStyle: {color: 'rgba(0,0,0,0)', borderColor: PURPLE, borderWidth: 1.5}}),
    {name: seriesNames[1], type: 'line', z: 2, data: fitK.map((k, i) => [k, fitPurple[i]]), symbol: 'none',
      lineStyle: {color: BLUE, width: 2.6}, itemStyle: {color: BLUE}, silent: true, animation: false, clip: false},
    Object.assign({}, scatterBase, {name: seriesNames[2], data: greenPts,
      itemStyle: {color: 'rgba(0,0,0,0)', borderColor: GREEN, borderWidth: 1.5}}),
    {name: seriesNames[3], type: 'line', z: 3, data: fitK.map((k, i) => [k, fitGreen[i]]), symbol: 'none',
      lineStyle: {color: DKGREEN, width: 2.6}, itemStyle: {color: DKGREEN}, silent: true, animation: false, clip: false}
  ]
});
</script>
</body></html>
